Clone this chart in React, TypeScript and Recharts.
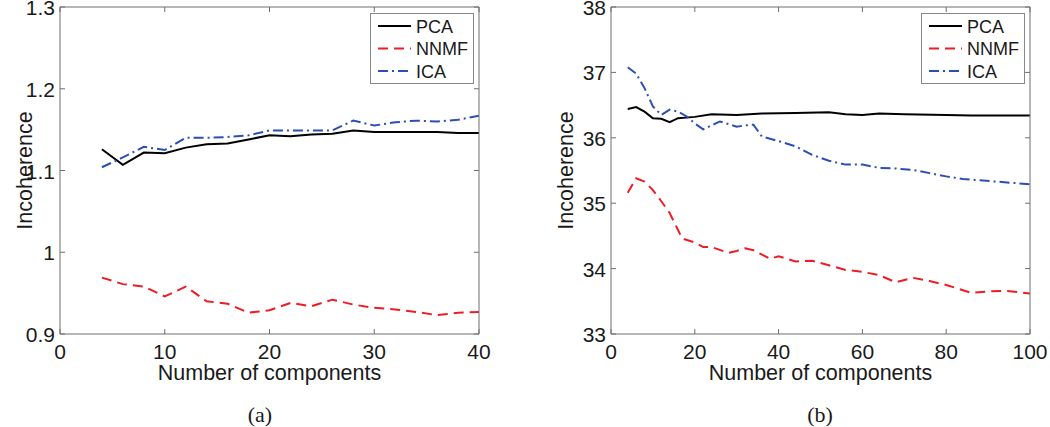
import React from 'react';
import { LineChart, Line, XAxis, YAxis, Legend } from 'recharts';

// (a) components 4..40 step 2
const leftX = [4, 6, 8, 10, 12, 14, 16, 18, 20, 22, 24, 26, 28, 30, 32, 34, 36, 38, 40];
const leftPca = [1.126, 1.107, 1.122, 1.121, 1.128, 1.132, 1.133, 1.138, 1.143, 1.142, 1.144, 1.145, 1.149, 1.147, 1.147, 1.147, 1.147, 1.146, 1.146];
const leftNnmf = [0.969, 0.961, 0.958, 0.946, 0.958, 0.940, 0.937, 0.926, 0.929, 0.938, 0.934, 0.942, 0.936, 0.932, 0.930, 0.927, 0.923, 0.926, 0.927];
const leftIca = [1.104, 1.116, 1.129, 1.125, 1.140, 1.140, 1.141, 1.143, 1.149, 1.149, 1.149, 1.149, 1.161, 1.155, 1.159, 1.161, 1.160, 1.162, 1.167];

// (b)
const rightPcaX = [4, 6, 8, 10, 12, 14, 16, 20, 24, 30, 36, 44, 52, 56, 60, 64, 70, 80, 86, 90, 100];
const rightPca = [36.44, 36.47, 36.40, 36.30, 36.29, 36.24, 36.30, 36.32, 36.36, 36.35, 36.37, 36.38, 36.39, 36.36, 36.35, 36.37, 36.36, 36.35, 36.34, 36.34, 36.34];
const rightIcaX = [4, 6, 8, 10, 12, 14, 16, 18, 20, 22, 24, 26, 28, 30, 32, 34, 36, 40, 44, 48, 52, 56, 60, 64, 68, 72, 76, 80, 84, 88, 92, 96, 100];
const rightIca = [37.08, 36.98, 36.76, 36.48, 36.35, 36.43, 36.40, 36.33, 36.22, 36.13, 36.19, 36.25, 36.21, 36.17, 36.19, 36.20, 36.02, 35.95, 35.87, 35.74, 35.65, 35.59, 35.59, 35.54, 35.53, 35.51, 35.46, 35.41, 35.37, 35.35, 35.33, 35.31, 35.29];
const rightNnmfX = [4, 6, 8, 10, 12, 14, 16, 17, 20, 22, 24, 28, 30, 32, 34, 38, 40, 44, 48, 52, 56, 60, 64, 68, 72, 76, 80, 84, 86, 90, 94, 100];
const rightNnmf = [35.16, 35.38, 35.33, 35.20, 35.03, 34.85, 34.59, 34.46, 34.40, 34.33, 34.33, 34.24, 34.27, 34.31, 34.28, 34.15, 34.19, 34.11, 34.12, 34.05, 33.98, 33.95, 33.90, 33.79, 33.86, 33.81, 33.75, 33.67, 33.63, 33.65, 33.66, 33.62];

const leftXTicks = [0, 10, 20, 30, 40];
const leftYTicks = [0.9, 1, 1.1, 1.2, 1.3];
const rightXTicks = [0, 20, 40, 60, 80, 100];
const rightYTicks = [33, 34, 35, 36, 37, 38];

const toPoints = (xs: number[], ys: number[]) => xs.map((x, i) => ({ x, y: ys[i] }));

const FONT = '"Liberation Sans", Arial, sans-serif';
const AXIS = '#6e6e6e';
const TXT = '#1a1a1a';
const RED = '#ee1c24';
const BLUE = '#2b4fb3';

const BottomTick = (p: any) => (
  <g>
    <line x1={p.x} y1={p.y} x2={p.x} y2={p.y - 5} stroke={AXIS} />
    <text x={p.x} y={p.y + 25} textAnchor="middle" fontSize={21} fontFamily={FONT} fill={TXT}>
      {p.payload.value}
    </text>
  </g>
);
const TopTick = (p: any) => <line x1={p.x} y1={p.y} x2={p.x} y2={p.y + 5} stroke={AXIS} />;
const LeftTick = (p: any) => (
  <g>
    <line x1={p.x} y1={p.y} x2={p.x + 5} y2={p.y} stroke={AXIS} />
    <text x={p.x - 5} y={p.y + 8} textAnchor="end" fontSize={21} fontFamily={FONT} fill={TXT}>
      {p.payload.value}
    </text>
  </g>
);
const RightTick = (p: any) => <line x1={p.x} y1={p.y} x2={p.x - 5} y2={p.y} stroke={AXIS} />;

const items = [
  { name: 'PCA', color: '#000', dash: undefined },
  { name: 'NNMF', color: RED, dash: '10 6' },
  { name: 'ICA', color: BLUE, dash: '10 4 2 4' },
];

const LegendBox = () => (
  <svg width={104} height={71} style={{ display: 'block' }}>
    <rect x={0.5} y={0.5} width={103} height={70} fill="#fff" stroke="#888" />
    {items.map((it, i) => (
      <g key={it.name}>
        <line x1={8} x2={41} y1={13 + i * 22.5} y2={13 + i * 22.5} stroke={it.color} strokeWidth={2} strokeDasharray={it.dash} />
        <text x={46} y={19.5 + i * 22.5} fontSize={18} fontFamily={FONT} fill={TXT}>{it.name}</text>
      </g>
    ))}
  </svg>
);

const YTitle = (dx: number) => (props: any) => {
  const vb = props.viewBox;
  const cx = vb.x + dx;
  const cy = vb.y + vb.height / 2;
  return (
    <text x={cx} y={cy} transform={`rotate(-90 ${cx} ${cy})`} textAnchor="middle" dominantBaseline="central" fontSize={21.5} fontFamily={FONT} fill={TXT}>
      Incoherence
    </text>
  );
};

const XTitle = (props: any) => {
  const vb = props.viewBox;
  return (
    <text x={vb.x + vb.width / 2} y={vb.y + 46} textAnchor="middle" fontSize={21.5} fontFamily={FONT} fill={TXT}>
      Number of components
    </text>
  );
};

type PanelProps = {
  left: number;
  yWidth: number;
  marginRight: number;
  xDomain: [number, number];
  yDomain: [number, number];
  xTicks: number[];
  yTicks: number[];
  pca: { x: number; y: number }[];
  nnmf: { x: number; y: number }[];
  ica: { x: number; y: number }[];
  titleDx: number;
  legendLeft: number;
};

const Panel = (p: PanelProps) => (
  <div style={{ position: 'absolute', left: p.left, top: 0 }}>
    <LineChart width={525} height={427} margin={{ top: 6, right: p.marginRight, bottom: 0, left: 0 }}>
      <XAxis dataKey="x" type="number" domain={p.xDomain} ticks={p.xTicks} interval={0} height={93}
        tickSize={0} tickMargin={0} tickLine={false} stroke={AXIS} tick={BottomTick} label={XTitle} allowDataOverflow />
      <XAxis xAxisId="top" orientation="top" dataKey="x" type="number" domain={p.xDomain} ticks={p.xTicks} interval={0}
        height={1} tickSize={0} tickMargin={0} tickLine={false} stroke={AXIS} tick={TopTick} allowDataOverflow />
      <YAxis type="number" domain={p.yDomain} ticks={p.yTicks} interval={0} width={p.yWidth}
        tickSize={0} tickMargin={0} tickLine={false} stroke={AXIS} tick={LeftTick} label={YTitle(p.titleDx)} allowDataOverflow />
      <YAxis yAxisId="r" orientation="right" type="number" domain={p.yDomain} ticks={p.yTicks} interval={0} width={1}
        tickSize={0} tickMargin={0} tickLine={false} stroke={AXIS} tick={RightTick} allowDataOverflow />
      <Legend layout="vertical" align="center" verticalAlign="middle" content={LegendBox}
        wrapperStyle={{ position: 'absolute', left: p.legendLeft, top: 13, width: 104, height: 71 }} />
      <Line data={p.pca} dataKey="y" name="PCA" stroke="#000" strokeWidth={2} dot={false} isAnimationActive={false} />
      <Line data={p.nnmf} dataKey="y" name="NNMF" stroke={RED} strokeWidth={2} strokeDasharray="10 6" dot={false} isAnimationActive={false} />
      <Line data={p.ica} dataKey="y" name="ICA" stroke={BLUE} strokeWidth={2} strokeDasharray="10 4 2 4" dot={false} isAnimationActive={false} />
    </LineChart>
  </div>
);

const captionStyle: React.CSSProperties = {
  position: 'absolute',
  top: 402,
  width: 60,
  textAlign: 'center',
  fontFamily: '"Liberation Serif", "Times New Roman", serif',
  fontSize: 22,
  color: TXT,
  lineHeight: '26px',
};

export default function App() {
  return (
    <div style={{ position: 'absolute', left: 0, top: 0, width: 1050, height: 427, background: '#fff', overflow: 'hidden' }}>
      <Panel left={0} yWidth={60} marginRight={45} xDomain={[0, 40]} yDomain={[0.9, 1.3]} xTicks={leftXTicks} yTicks={leftYTicks}
        pca={toPoints(leftX, leftPca)} nnmf={toPoints(leftX, leftNnmf)} ica={toPoints(leftX, leftIca)} titleDx={25} legendLeft={370} />
      <Panel left={525} yWidth={86} marginRight={19} xDomain={[0, 100]} yDomain={[33, 38]} xTicks={rightXTicks} yTicks={rightYTicks}
        pca={toPoints(rightPcaX, rightPca)} nnmf={toPoints(rightNnmfX, rightNnmf)} ica={toPoints(rightIcaX, rightIca)} titleDx={41} legendLeft={396} />
      <div style={{ ...captionStyle, left: 230 }}>(a)</div>
      <div style={{ ...captionStyle, left: 790 }}>(b)</div>
    </div>
  );
}
